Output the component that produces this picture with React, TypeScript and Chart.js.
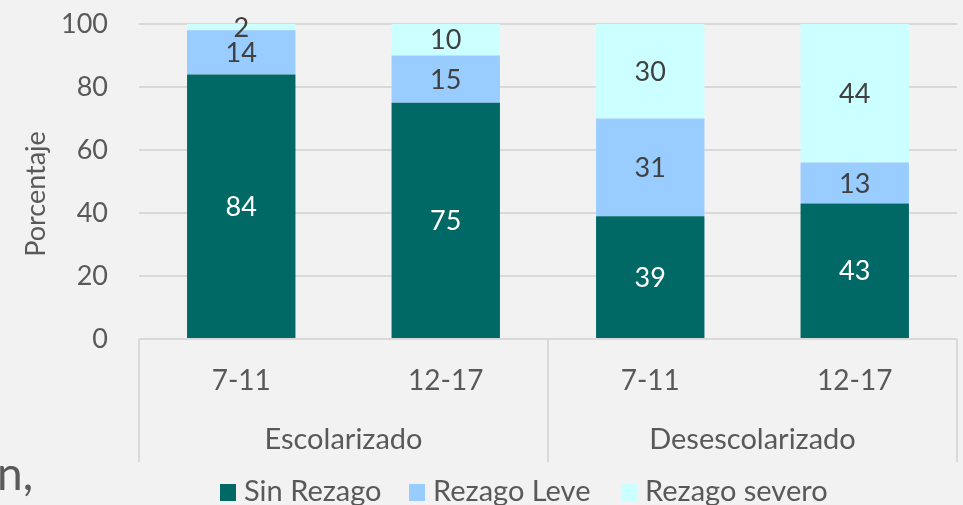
import React, { useEffect, useRef } from "react";
import { Chart, registerables } from "chart.js";

Chart.register(...registerables);

const ageLabels = ["7-11", "12-17", "7-11", "12-17"];
const groupLabels = ["Escolarizado", "Desescolarizado"];
const sinRezago = [84, 75, 39, 43];
const rezagoLeve = [14, 15, 31, 13];
const rezagoSevero = [2, 10, 30, 44];
const seriesNames = ["Sin Rezago", "Rezago Leve", "Rezago severo"];
const seriesColors = ["#006865", "#99CCFF", "#CCFFFF"];
const labelColors = ["#FFFFFF", "#404040", "#404040"];
const yTicks = [0, 20, 40, 60, 80, 100];

const FONT = "Lato";
const TEXT = "#595959";

const customPlugin = {
  id: "custom",
  afterDatasetsDraw(chart: any) {
    const ctx = chart.ctx;
    const area = chart.chartArea;
    const xs = chart.scales.x;
    ctx.save();
    // data labels
    chart.data.datasets.forEach((ds: any, di: number) => {
      const meta = chart.getDatasetMeta(di);
      meta.data.forEach((bar: any, i: number) => {
        const v = ds.data[i];
        const yc = (bar.y + bar.base) / 2;
        ctx.fillStyle = labelColors[di];
        ctx.font = `27px ${FONT}`;
        ctx.textAlign = "center";
        ctx.textBaseline = "middle";
        ctx.fillText(String(v), bar.x, yc + 1);
      });
    });
    // x axis separators
    ctx.strokeStyle = "#D9D9D9";
    ctx.lineWidth = 2;
    const mid = (xs.getPixelForValue(1) + xs.getPixelForValue(2)) / 2;
    [area.left, mid, area.right].forEach((x) => {
      ctx.beginPath();
      ctx.moveTo(x, area.bottom);
      ctx.lineTo(x, 462);
      ctx.stroke();
    });
    // category labels
    ctx.fillStyle = TEXT;
    ctx.font = `28px ${FONT}`;
    ctx.textAlign = "center";
    ctx.textBaseline = "middle";
    ageLabels.forEach((l, i) => {
      ctx.fillText(l, xs.getPixelForValue(i), 381);
    });
    ctx.font = `29px ${FONT}`;
    groupLabels.forEach((g, gi) => {
      const cx = (xs.getPixelForValue(gi * 2) + xs.getPixelForValue(gi * 2 + 1)) / 2;
      ctx.fillText(g, cx, 440);
    });
    // y title
    ctx.save();
    ctx.translate(36, 194);
    ctx.rotate(-Math.PI / 2);
    ctx.font = `27px ${FONT}`;
    ctx.fillText("Porcentaje", 0, 0);
    ctx.restore();
    // legend
    const legendX = [220, 409, 621];
    ctx.font = `29px ${FONT}`;
    ctx.textAlign = "left";
    seriesNames.forEach((n, i) => {
      ctx.fillStyle = seriesColors[i];
      ctx.fillRect(legendX[i], 484, 16, 17);
      ctx.fillStyle = TEXT;
      ctx.fillText(n, legendX[i] + 24, 492);
    });
    // stray slide text
    ctx.font = `46px ${FONT}`;
    ctx.fillStyle = "#595959";
    ctx.textBaseline = "alphabetic";
    ctx.fillText("n,", -3, 490);
    ctx.restore();
  },
};

export default function App() {
  const ref = useRef<HTMLCanvasElement | null>(null);
  useEffect(() => {
    if (!ref.current) return;
    const chart = new Chart(ref.current, {
      type: "bar",
      data: {
        labels: ageLabels,
        datasets: [sinRezago, rezagoLeve, rezagoSevero].map((d, i) => ({
          label: seriesNames[i],
          data: d,
          backgroundColor: seriesColors[i],
          borderWidth: 0,
          categoryPercentage: 1,
          barPercentage: 0.53,
        })),
      },
      options: {
        responsive: false,
        maintainAspectRatio: false,
        animation: false,
        layout: { padding: { top: 24, bottom: 166, left: 0, right: 6 } },
        plugins: { legend: { display: false }, tooltip: { enabled: false }, title: { display: false } },
        scales: {
          x: { stacked: true, display: false },
          y: {
            stacked: true,
            min: 0,
            max: 100,
            afterFit: (s: any) => {
              s.width = 139;
              s.paddingTop = 0;
              s.paddingBottom = 0;
            },
            afterBuildTicks: (s: any) => {
              s.ticks = yTicks.map((v) => ({ value: v }));
            },
            ticks: {
              color: TEXT,
              font: { family: FONT, size: 27 },
              padding: 31,
            },
            grid: { color: "#D9D9D9", lineWidth: 2, drawTicks: false },
            border: { display: false },
          },
        },
      },
      plugins: [customPlugin],
    });
    return () => chart.destroy();
  }, []);
  return (
    <div style={{ position: "absolute", left: 0, top: 0, width: 963, height: 505, background: "#F2F2F2" }}>
      <canvas ref={ref} width={963} height={505} style={{ display: "block" }} />
    </div>
  );
}
